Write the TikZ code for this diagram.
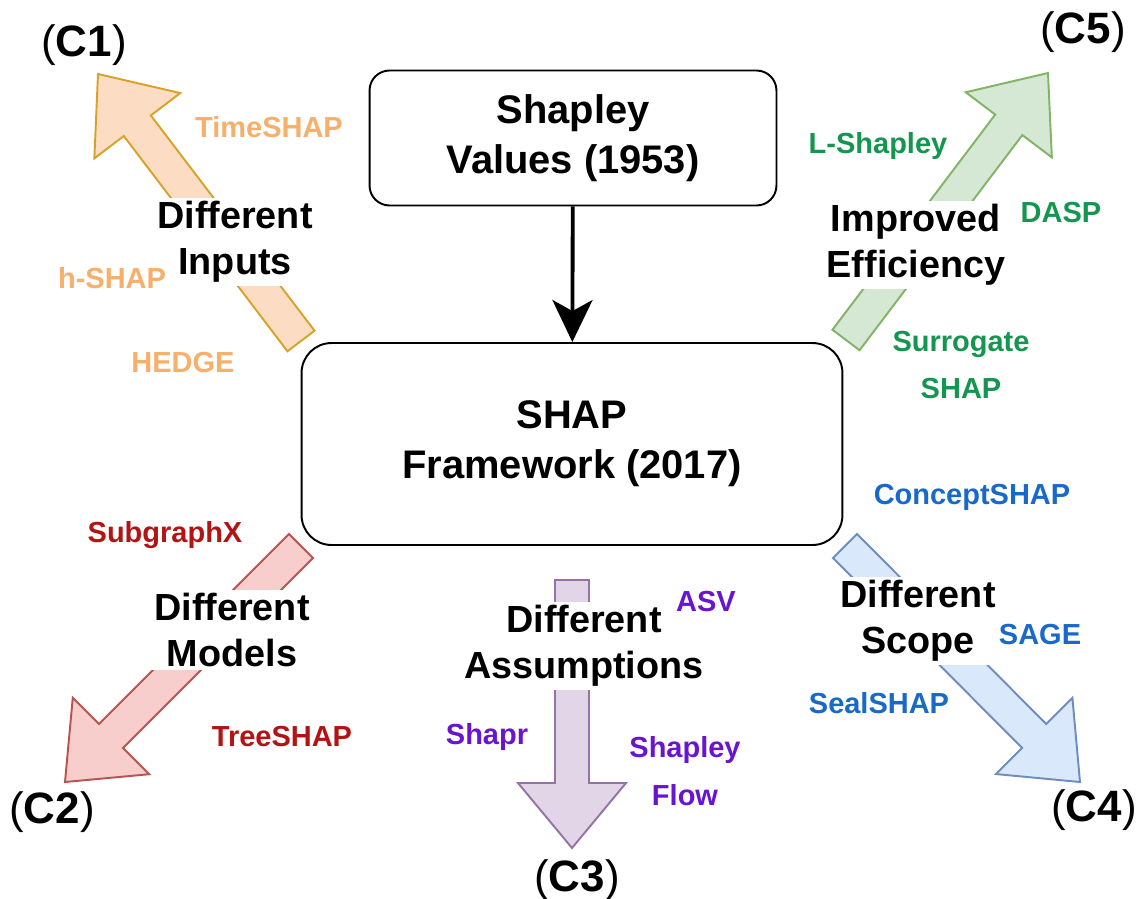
\documentclass[tikz,border=0pt]{standalone}
\usepackage{fontspec}
\setmainfont{Liberation Sans}
\usetikzlibrary{arrows.meta,calc}
\definecolor{inFill}{RGB}{252,221,196}
\definecolor{inDraw}{RGB}{214,163,40}
\definecolor{inText}{RGB}{246,176,108}
\definecolor{effFill}{RGB}{213,232,212}
\definecolor{effDraw}{RGB}{130,179,102}
\definecolor{effText}{RGB}{20,150,80}
\definecolor{modFill}{RGB}{248,206,204}
\definecolor{modDraw}{RGB}{184,84,80}
\definecolor{modText}{RGB}{178,20,20}
\definecolor{scoFill}{RGB}{218,232,252}
\definecolor{scoDraw}{RGB}{108,142,191}
\definecolor{scoText}{RGB}{25,105,200}
\definecolor{assFill}{RGB}{225,213,231}
\definecolor{assDraw}{RGB}{150,115,166}
\definecolor{assText}{RGB}{105,20,205}

% block arrow: style, tail, tip
\newcommand{\bigarrow}[3]{%
  \coordinate (#3-b) at ($(#3)!1.3cm!(#2)$);
  \draw[#1] ($(#2)!0.34cm!90:(#3)$)
    -- ($(#3-b)!0.34cm!90:(#3)$)
    -- ($(#3-b)!1.08cm!90:(#3)$)
    -- (#3)
    -- ($(#3-b)!1.08cm!-90:(#3)$)
    -- ($(#3-b)!0.34cm!-90:(#3)$)
    -- ($(#2)!0.34cm!-90:(#3)$) -- cycle;
}

\begin{document}
\begin{tikzpicture}[
  x=0.02cm, y=-0.02cm,
  box/.style={draw, line width=1.1pt, rounded corners=0.4cm, align=center,
              font=\fontsize{22.7}{28.5}\selectfont\bfseries},
  cat/.style={fill=white, inner sep=2pt, align=center,
              font=\fontsize{21.5}{26}\selectfont\bfseries},
  meth/.style={align=center, font=\fontsize{16.5}{20}\selectfont\bfseries},
  tag/.style={font=\fontsize{25}{30}\selectfont},
  blk/.style={line width=1.1pt},
  link/.style={-{Stealth[length=0.84cm,width=0.8cm,inset=0.22cm]},
               line width=2.2pt},
]
\useasboundingbox (0,0) rectangle (1140,899);

%% Main boxes
\node[box, minimum width=8.14cm, minimum height=2.7cm]
  (shapley) at (573,138) {Shapley\\Values (1953)};
\node[box, minimum width=10.82cm, minimum height=4.04cm,
      rounded corners=0.6cm]
  (shap) at (572,444) {SHAP\\Framework (2017)};
\draw[link] (shapley) -- (shap);

%% Block arrows (tail, tip)
\coordinate (inT)  at (301,341);  \coordinate (inH)  at (98,74);
\coordinate (effT) at (846,340);  \coordinate (effH) at (1048,73);
\coordinate (modT) at (301,546);  \coordinate (modH) at (65,782);
\coordinate (scoT) at (845,546);  \coordinate (scoH) at (1080,782);
\coordinate (assT) at (572,580);  \coordinate (assH) at (572,848);
\bigarrow{blk, fill=inFill,  draw=inDraw}{inT}{inH}
\bigarrow{blk, fill=effFill, draw=effDraw}{effT}{effH}
\bigarrow{blk, fill=modFill, draw=modDraw}{modT}{modH}
\bigarrow{blk, fill=scoFill, draw=scoDraw}{scoT}{scoH}
\bigarrow{blk, fill=assFill, draw=assDraw}{assT}{assH}

%% Category labels
\node[cat] (inputs) at (235,242) {Different\\Inputs};
\node[cat] (effic)  at (916,245) {Improved\\Efficiency};
\node[cat] (models) at (232,630) {Different\\Models};
\node[cat] (scope)  at (918,621) {Different\\Scope};
\node[cat] (assum)  at (584,646) {Different\\Assumptions};

%% Methods
\node[meth, inText] (timeshap) at (269,127) {TimeSHAP};
\node[meth, inText] (hshap)    at (112,278) {h-SHAP};
\node[meth, inText] (hedge)    at (183,363) {HEDGE};

\node[meth, effText] (lshap)  at (878,146) {L-Shapley};
\node[meth, effText] (dasp)   at (1061,213) {DASP};
\node[meth, effText] (surr)   at (961,365) {Surrogate\\[7pt]SHAP};

\node[meth, modText] (subx)   at (165,535) {SubgraphX};
\node[meth, modText] (tree)   at (282,737) {TreeSHAP};

\node[meth, scoText] (concept) at (972,497) {ConceptSHAP};
\node[meth, scoText] (sage)    at (1040,635) {SAGE};
\node[meth, scoText] (seal)    at (879,703) {SealSHAP};

\node[meth, assText] (asv)    at (706,602) {ASV};
\node[meth, assText] (shapr)  at (487,737) {Shapr};
\node[meth, assText] (flow)   at (685,771) {Shapley\\[7pt]Flow};

%% Tags
\node[tag] (c1) at (84,45)   {(\textbf{C1})};
\node[tag] (c5) at (1083,32) {(\textbf{C5})};
\node[tag] (c2) at (52,812)  {(\textbf{C2})};
\node[tag] (c3) at (577,880) {(\textbf{C3})};
\node[tag] (c4) at (1094,810) {(\textbf{C4})};
\end{tikzpicture}
\end{document}
